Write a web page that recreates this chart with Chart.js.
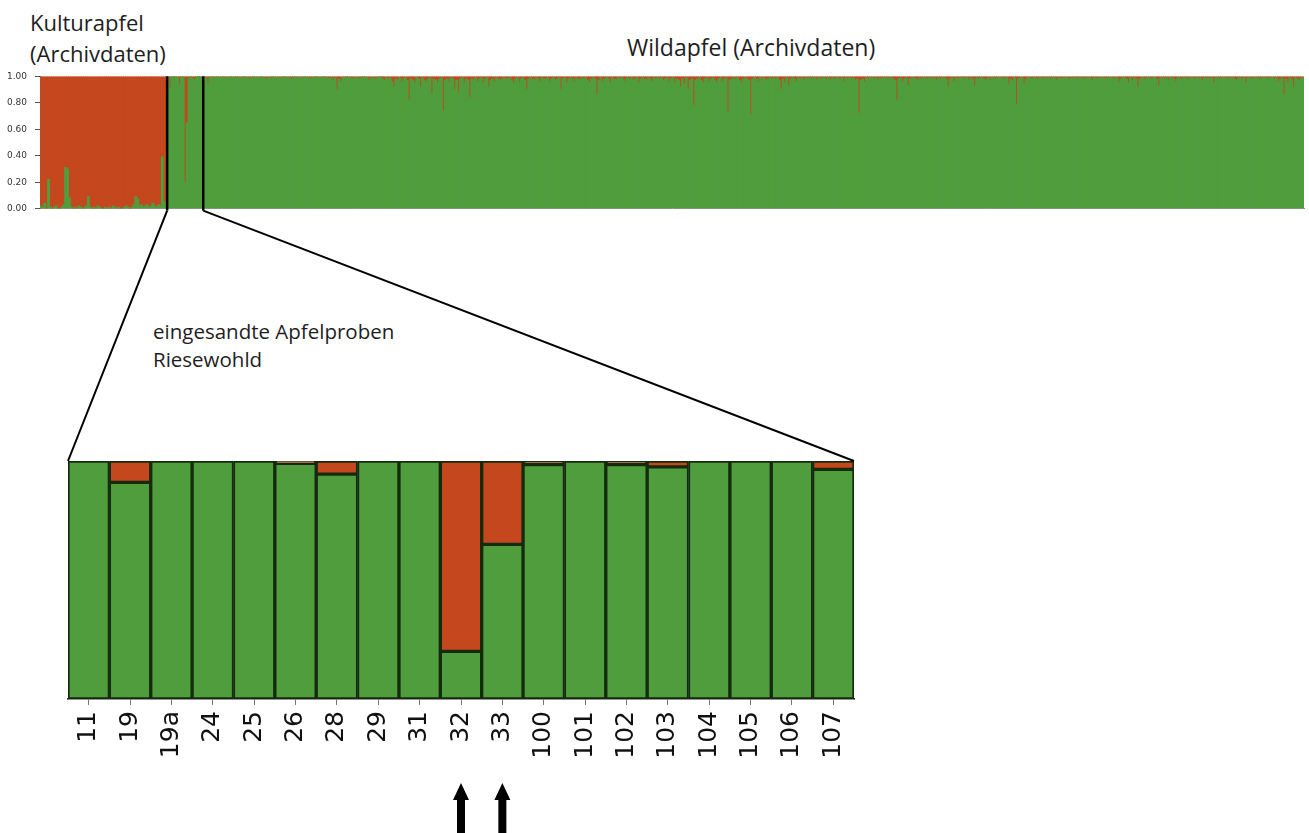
<!DOCTYPE html>
<html>
<head>
<meta charset="utf-8">
<title>Apfelproben Riesewohld</title>
<script src="https://cdn.jsdelivr.net/npm/chart.js@4.4.1/dist/chart.umd.min.js"></script>
<style>
  body {
    margin: 0;
    background: #fff;
    width: 1309px;
    height: 833px;
    position: relative;
    overflow: hidden;
    font-family: "Open Sans", sans-serif;
  }
  .label {
    position: absolute;
    font-size: 22px;
    line-height: 22px;
    color: #1e1e1e;
    white-space: nowrap;
  }
  #topChart { position: absolute; left: 0; top: 63px; }
  #bottomChart { position: absolute; left: 0; top: 440px; }
  #links { position: absolute; left: 0; top: 0; pointer-events: none; }
</style>
</head>
<body>

<div class="label" style="left:30px; top:11px;">Kulturapfel</div>
<div class="label" style="left:30px; top:42px;">(Archivdaten)</div>
<div class="label" style="left:627px; top:36px; font-size:23px;">Wildapfel (Archivdaten)</div>
<div class="label" style="left:153px; top:320px; font-size:20.5px;">eingesandte Apfelproben</div>
<div class="label" style="left:153px; top:348px; font-size:20.5px;">Riesewohld</div>

<canvas id="topChart" width="1309" height="159"></canvas>
<canvas id="bottomChart" width="900" height="393"></canvas>
<canvas id="links" width="1309" height="833"></canvas>

<script>
// cultivated apples: green share in percent (rest is red)
var kulturGreen = [
  2, 1, 4, 0, 22, 1, 0, 1, 2, 0, 0, 1, 3, 31, 30, 8, 1, 0, 1, 0,
  2, 1, 0, 1, 2, 9, 1, 0, 1, 0, 2, 1, 0, 0, 1, 0, 1, 0, 2, 1,
  0, 1, 0, 0, 1, 2, 1, 0, 1, 3, 9, 7, 2, 3, 1, 2, 3, 1, 2, 4,
  2, 1, 3, 2, 39, 5, 1
];

// submitted samples
var sampleLabels = ["11", "19", "19a", "24", "25", "26", "28", "29", "31", "32",
  "33", "100", "101", "102", "103", "104", "105", "106", "107"];
var sampleGreen = [1.00, 0.91, 1.00, 1.00, 1.00, 0.99, 0.945, 1.00, 1.00, 0.20,
  0.65, 0.985, 1.00, 0.985, 0.975, 1.00, 1.00, 1.00, 0.965];

// wild apples: red share in percent (rest is green)
var wildRed = [
  0, 1, 5, 1, 0, 1, 1, 0, 1, 1, 0, 1, 1, 1, 0, 1, 1, 0, 1, 1,
  1, 0, 1, 1, 2, 1, 0, 1, 1, 1, 0, 1, 1, 2, 1, 1, 0, 1, 1, 1,
  1, 1, 0, 1, 1, 1, 2, 1, 0, 1, 1, 1, 1, 0, 1, 1, 2, 1, 1, 0,
  1, 1, 1, 0, 1, 1, 2, 1, 3, 1, 10, 2, 4, 1, 1, 0, 1, 1, 2, 1,
  1, 1, 2, 1, 0, 1, 1, 3, 1, 1, 2, 1, 1, 0, 2, 3, 1, 2, 1, 4,
  8, 2, 3, 1, 4, 2, 1, 3, 18, 2, 3, 5, 1, 2, 8, 1, 3, 4, 2, 1,
  13, 2, 3, 5, 2, 1, 26, 3, 2, 4, 1, 2, 10, 3, 12, 2, 1, 5, 2, 3,
  16, 2, 3, 1, 4, 2, 1, 5, 2, 1, 8, 3, 2, 4, 1, 2, 3, 2, 1, 2,
  2, 1, 3, 5, 2, 1, 4, 2, 1, 3, 10, 2, 1, 2, 3, 1, 2, 4, 1, 2,
  2, 1, 4, 2, 1, 3, 2, 1, 10, 2, 1, 5, 2, 1, 2, 4, 1, 2, 3, 1,
  2, 1, 3, 5, 2, 1, 2, 14, 3, 1, 4, 2, 1, 2, 5, 1, 2, 3, 1, 2,
  1, 2, 4, 1, 2, 1, 3, 2, 1, 5, 2, 1, 2, 3, 1, 2, 4, 1, 2, 1,
  2, 1, 3, 2, 1, 4, 2, 1, 5, 2, 3, 8, 2, 6, 1, 10, 3, 2, 22, 3,
  2, 1, 3, 5, 2, 1, 4, 2, 1, 3, 5, 2, 1, 4, 2, 1, 27, 3, 2, 1,
  2, 1, 3, 5, 2, 1, 2, 3, 29, 2, 1, 2, 4, 1, 2, 1, 3, 2, 1, 2,
  1, 2, 1, 3, 10, 2, 5, 1, 7, 2, 1, 2, 4, 1, 2, 1, 3, 1, 2, 1,
  2, 1, 1, 3, 1, 2, 1, 1, 2, 1, 3, 1, 2, 1, 1, 2, 1, 4, 1, 2,
  1, 2, 1, 3, 2, 28, 3, 2, 4, 1, 2, 1, 1, 2, 1, 3, 1, 2, 1, 1,
  2, 1, 1, 2, 3, 18, 2, 1, 4, 2, 1, 7, 2, 1, 1, 2, 3, 1, 2, 1,
  1, 2, 1, 1, 2, 1, 3, 1, 2, 1, 1, 2, 8, 2, 1, 4, 1, 2, 1, 1,
  2, 1, 1, 3, 1, 2, 7, 1, 2, 1, 1, 2, 3, 1, 2, 1, 1, 2, 1, 1,
  1, 2, 1, 1, 6, 2, 3, 1, 21, 2, 1, 1, 6, 2, 1, 1, 2, 1, 1, 2,
  1, 1, 2, 1, 1, 1, 2, 1, 1, 3, 1, 1, 2, 1, 1, 1, 2, 1, 1, 1,
  2, 1, 1, 1, 2, 1, 1, 1, 3, 1, 1, 2, 1, 1, 1, 2, 1, 1, 1, 2,
  1, 1, 4, 2, 1, 1, 2, 5, 1, 3, 1, 2, 8, 2, 1, 1, 3, 1, 1, 2,
  1, 1, 2, 7, 1, 1, 2, 1, 3, 1, 1, 2, 4, 1, 1, 2, 1, 1, 2, 1,
  1, 1, 2, 1, 1, 1, 3, 1, 1, 2, 1, 1, 5, 1, 1, 2, 1, 1, 1, 2,
  1, 1, 1, 2, 3, 1, 1, 2, 1, 5, 1, 1, 2, 1, 1, 1, 2, 1, 1, 1,
  1, 2, 1, 1, 2, 1, 4, 2, 1, 14, 2, 5, 1, 2, 8, 1, 2, 3, 1, 1
];

var yTicks = [0, 0.2, 0.4, 0.6, 0.8, 1.0];

var green = "#4f9d3c";
var red = "#c4471e";
var topOffset = 63;
var bottomOffset = 440;

// one long row of bars: cultivated, samples, wild
var overviewLabels = [];
var overviewGreen = [];
var overviewRed = [];
kulturGreen.forEach(function (v) {
  overviewGreen.push(v / 100);
  overviewRed.push(1 - v / 100);
});
sampleGreen.forEach(function (v) {
  overviewGreen.push(v);
  overviewRed.push(1 - v);
});
wildRed.forEach(function (v) {
  overviewGreen.push(1 - v / 100);
  overviewRed.push(v / 100);
});
overviewGreen.forEach(function (v, i) {
  overviewLabels.push(String(i + 1));
});

// pixel position between two categories
function gapPixel(scale, i) {
  return (scale.getPixelForValue(i - 1) + scale.getPixelForValue(i)) / 2;
}

// black separators around the sample group
var sectionLines = {
  id: "sectionLines",
  afterDatasetsDraw: function (chart) {
    var ctx = chart.ctx;
    var area = chart.chartArea;
    var x = chart.scales.x;
    [kulturGreen.length, kulturGreen.length + sampleGreen.length].forEach(function (i) {
      var px = gapPixel(x, i);
      ctx.save();
      ctx.strokeStyle = "#000";
      ctx.lineWidth = 2.5;
      ctx.beginPath();
      ctx.moveTo(px, area.top);
      ctx.lineTo(px, area.bottom + 2);
      ctx.stroke();
      ctx.restore();
    });
  }
};

// arrows under samples 32 and 33
var sampleArrows = {
  id: "sampleArrows",
  afterDraw: function (chart) {
    var ctx = chart.ctx;
    var x = chart.scales.x;
    ["32", "33"].forEach(function (name) {
      var px = x.getPixelForValue(sampleLabels.indexOf(name));
      var tip = 343;
      ctx.save();
      ctx.fillStyle = "#000";
      ctx.beginPath();
      ctx.moveTo(px, tip);
      ctx.lineTo(px + 8, tip + 17);
      ctx.lineTo(px + 4, tip + 17);
      ctx.lineTo(px + 4, chart.height);
      ctx.lineTo(px - 4, chart.height);
      ctx.lineTo(px - 4, tip + 17);
      ctx.lineTo(px - 8, tip + 17);
      ctx.closePath();
      ctx.fill();
      ctx.restore();
    });
  }
};

document.addEventListener("DOMContentLoaded", function () {
  var topCtx = document.getElementById("topChart").getContext("2d");
  var topChart = new Chart(topCtx, {
    type: "bar",
    data: {
      labels: overviewLabels,
      datasets: [
        {
          label: "grün",
          data: overviewGreen,
          backgroundColor: green,
          borderWidth: 0,
          inflateAmount: 0.5,
          barPercentage: 1,
          categoryPercentage: 1,
        },
        {
          label: "rot",
          data: overviewRed,
          backgroundColor: red,
          borderWidth: 0,
          inflateAmount: 0.5,
          barPercentage: 1,
          categoryPercentage: 1,
        },
      ],
    },
    options: {
      responsive: false,
      animation: false,
      layout: { padding: { top: 6, right: 5, bottom: 2, left: 0 } },
      plugins: { legend: { display: false }, tooltip: { enabled: false } },
      scales: {
        x: {
          stacked: true,
          ticks: { display: false },
          grid: { display: false },
          border: { display: true, color: "#9a9a9a", width: 1 },
          afterFit: function (axis) {
            axis.height = 0;
          },
        },
        y: {
          stacked: true,
          min: 0,
          max: 1,
          afterBuildTicks: function (axis) {
            axis.ticks = yTicks.map(function (v) {
              return { value: v };
            });
          },
          ticks: {
            font: { family: "DejaVu Sans", size: 9 },
            color: "#333",
            padding: 8,
            callback: function (v) {
              return Number(v).toFixed(2);
            },
          },
          grid: { drawOnChartArea: false, tickLength: 5, color: "#555" },
          border: { display: true, color: "#777" },
          afterFit: function (axis) {
            axis.width = 40;
          },
        },
      },
    },
    plugins: [sectionLines],
  });

  var bottomCtx = document.getElementById("bottomChart").getContext("2d");
  var bottomChart = new Chart(bottomCtx, {
    type: "bar",
    data: {
      labels: sampleLabels,
      datasets: [
        {
          label: "grün",
          data: sampleGreen,
          backgroundColor: green,
          borderColor: "#142b0e",
          borderWidth: 2,
          borderSkipped: false,
          barPercentage: 1,
          categoryPercentage: 1,
        },
        {
          label: "rot",
          data: sampleGreen.map(function (v) {
            return v < 1 ? 1 - v : null;
          }),
          backgroundColor: red,
          borderColor: "#142b0e",
          borderWidth: 2,
          borderSkipped: false,
          barPercentage: 1,
          categoryPercentage: 1,
        },
      ],
    },
    options: {
      responsive: false,
      animation: false,
      layout: { padding: { top: 21, right: 46, bottom: 0, left: 68 } },
      plugins: { legend: { display: false }, tooltip: { enabled: false } },
      scales: {
        x: {
          stacked: true,
          ticks: {
            minRotation: 90,
            maxRotation: 90,
            font: { family: "DejaVu Sans", size: 25 },
            color: "#111",
            padding: 6,
          },
          grid: { drawOnChartArea: false, offset: false, tickLength: 6, color: "#777" },
          border: { display: true, color: "#222", width: 1.5 },
          afterFit: function (axis) {
            axis.height = 134;
          },
        },
        y: {
          stacked: true,
          display: false,
          min: 0,
          max: 1,
        },
      },
    },
    plugins: [sampleArrows],
  });

  // zoom lines from the sample group down to the detail chart
  var topX = topChart.scales.x;
  var topArea = topChart.chartArea;
  var botArea = bottomChart.chartArea;
  var left = gapPixel(topX, kulturGreen.length);
  var right = gapPixel(topX, kulturGreen.length + sampleGreen.length);
  var lctx = document.getElementById("links").getContext("2d");
  lctx.strokeStyle = "#000";
  lctx.lineWidth = 2;
  lctx.beginPath();
  lctx.moveTo(left, topOffset + topArea.bottom + 2);
  lctx.lineTo(botArea.left, bottomOffset + botArea.top);
  lctx.moveTo(right, topOffset + topArea.bottom + 2);
  lctx.lineTo(botArea.right, bottomOffset + botArea.top);
  lctx.stroke();
});
</script>
</body>
</html>
